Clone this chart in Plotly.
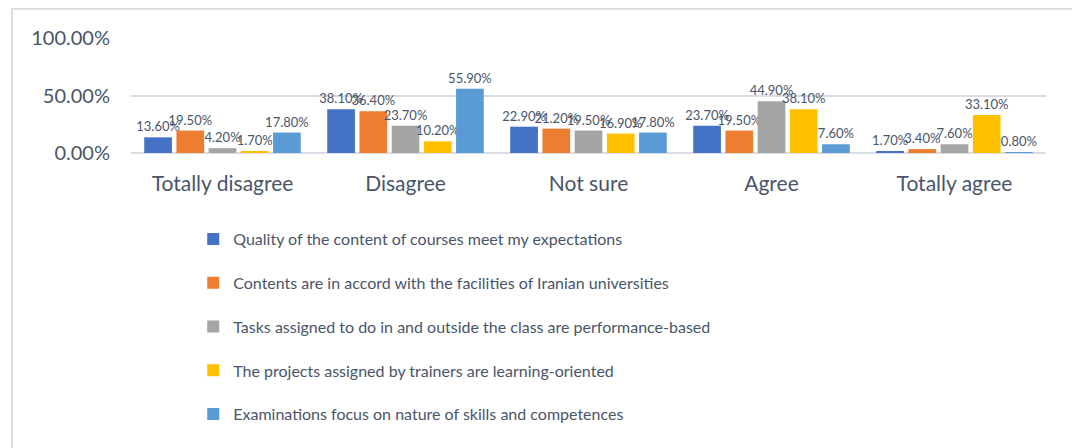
import plotly.graph_objects as go

# ---------------------------------------------------------------------------
# Data (percent of respondents)
# ---------------------------------------------------------------------------
categories = ["Totally disagree", "Disagree", "Not sure", "Agree", "Totally agree"]

series_names = [
    "Quality of the content of courses meet my expectations",
    "Contents are in accord with the facilities of Iranian universities",
    "Tasks assigned to do in and outside the class are performance-based",
    "The projects assigned by trainers are learning-oriented",
    "Examinations focus on nature of skills and competences",
]

quality_content = [13.6, 38.1, 22.9, 23.7, 1.7]
accord_facilities = [19.5, 36.4, 21.2, 19.5, 3.4]
tasks_performance = [4.2, 23.7, 19.5, 44.9, 7.6]
projects_learning = [1.7, 10.2, 16.9, 38.1, 33.1]
exams_skills = [17.8, 55.9, 17.8, 7.6, 0.8]

y_ticks = [0, 50, 100]
y_tick_labels = ["0.00%", "50.00%", "100.00%"]

# Office palette
_COLORS = ["#4472C4", "#ED7D31", "#A5A5A5", "#FFC000", "#5B9BD5"]
_TEXT = "#4a5568"
_FONT = "Lato, sans-serif"

series_values = [
    quality_content,
    accord_facilities,
    tasks_performance,
    projects_learning,
    exams_skills,
]

fig = go.Figure()
for i, (name, vals) in enumerate(zip(series_names, series_values)):
    fig.add_trace(go.Bar(
        x=categories, y=vals, name=name,
        marker=dict(color=_COLORS[i], line=dict(width=0)),
        texttemplate="%{y:.2f}%",
        textposition="outside",
        constraintext="none",
        cliponaxis=False,
        textfont=dict(family=_FONT, size=13, color=_TEXT),
        legendgroup=f"g{i}",
    ))

# page body adds an 8px offset, so the figure is 1072x440
fig.update_layout(
    width=1072, height=440,
    margin=dict(l=123, r=34, t=30, b=295),
    paper_bgcolor="white", plot_bgcolor="white",
    font=dict(family=_FONT, color=_TEXT, size=16),
    barmode="group", bargap=0.12, bargroupgap=0.14,
    showlegend=True,
    legend=dict(
        x=0.068, y=-0.60, xanchor="left", yanchor="top",
        orientation="v", tracegroupgap=20,
        font=dict(family=_FONT, size=16, color=_TEXT),
        bgcolor="rgba(0,0,0,0)",
    ),
    xaxis=dict(
        showgrid=False, showline=False, ticks="",
        ticklabelstandoff=16, automargin=False,
        tickfont=dict(size=21, color=_TEXT),
    ),
    yaxis=dict(
        range=[0, 100], tickvals=y_ticks, ticktext=y_tick_labels,
        showgrid=True, gridcolor="#D9DDE3", gridwidth=2,
        zeroline=True, zerolinecolor="#D9DDE3", zerolinewidth=2,
        showline=False, ticks="", automargin=False,
        ticklabelstandoff=20,
        tickfont=dict(size=20, color=_TEXT),
    ),
    shapes=[dict(
        type="rect", xref="paper", yref="paper",
        x0=-0.130, x1=1.05, y0=-2.8, y1=1.255,
        line=dict(color="#D9DDE3", width=2), fillcolor="rgba(0,0,0,0)",
        layer="below",
    )],
)

fig.write_html("out.html")
